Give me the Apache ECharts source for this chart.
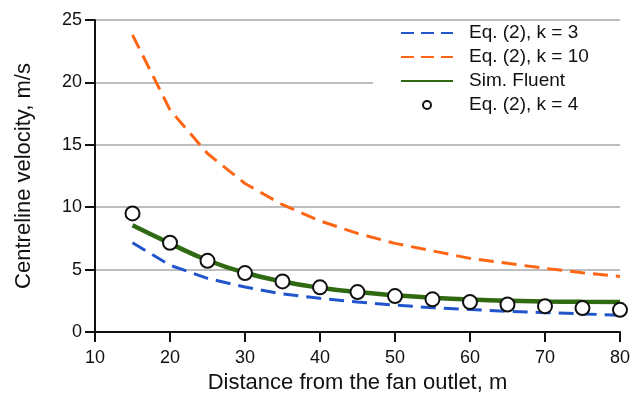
<!DOCTYPE html>
<html>
<head>
<meta charset="utf-8">
<script src="https://cdn.jsdelivr.net/npm/echarts@6/dist/echarts.min.js"></script>
<style>
  html, body { margin: 0; padding: 0; background: #fff; }
  #chart { width: 633px; height: 399px; }
</style>
</head>
<body>
<div id="chart"></div>
<script>
// distance from fan outlet, m
const distance = [15, 20, 25, 30, 35, 40, 45, 50, 55, 60, 65, 70, 75, 80];
// centreline velocity, m/s
const eqK3 = [7.15, 5.35, 4.3, 3.6, 3.05, 2.7, 2.4, 2.15, 1.95, 1.8, 1.65, 1.55, 1.45, 1.35];
const eqK10 = [23.8, 17.8, 14.3, 11.9, 10.2, 8.9, 7.9, 7.1, 6.5, 5.9, 5.5, 5.1, 4.75, 4.45];
const simFluent = [8.55, 7.1, 5.75, 4.75, 4.05, 3.55, 3.2, 2.95, 2.75, 2.6, 2.5, 2.45, 2.42, 2.4];
const eqK4 = [9.5, 7.15, 5.7, 4.72, 4.05, 3.58, 3.2, 2.88, 2.62, 2.4, 2.2, 2.07, 1.92, 1.78];

const yTicks = { min: 0, max: 25, step: 5 };
const xTicks = { min: 10, max: 80, step: 10 };

const font = "'Liberation Sans', Arial, sans-serif";
const pairs = (ys) => distance.map((x, i) => [x, ys[i]]);
const noDot = { opacity: 0 }; // hide the symbol that line legend icons draw
const legendDash = { type: [13, 7], width: 2 };

const chart = echarts.init(document.getElementById("chart"));
chart.setOption({
  backgroundColor: "#fff",
  animation: false,
  grid: { left: 95, right: 13, top: 20, bottom: 66 },
  legend: {
    orient: "vertical",
    left: 373,
    top: 22,
    padding: [1, 40, 25, 27],
    backgroundColor: "#fff",
    itemWidth: 52,
    itemHeight: 8,
    itemGap: 4,
    textStyle: { fontFamily: font, fontSize: 19, color: "#111", lineHeight: 20, padding: [0, 0, 0, 11] },
    data: [
      { name: "Eq. (2), k = 3", itemStyle: noDot, lineStyle: legendDash },
      { name: "Eq. (2), k = 10", itemStyle: noDot, lineStyle: legendDash },
      { name: "Sim. Fluent", itemStyle: noDot },
      { name: "Eq. (2), k = 4", icon: "circle", itemStyle: { color: "#fff", borderColor: "#111", borderWidth: 2, opacity: 1 } }
    ]
  },
  xAxis: {
    type: "value",
    min: xTicks.min,
    max: xTicks.max,
    interval: xTicks.step,
    name: "Distance from the fan outlet, m",
    nameLocation: "middle",
    nameGap: 40,
    nameTextStyle: { fontFamily: font, fontSize: 22, color: "#111" },
    axisLine: { lineStyle: { color: "#111", width: 2 } },
    axisTick: { show: true, length: 10, lineStyle: { color: "#111", width: 2 } },
    axisLabel: { fontFamily: font, fontSize: 18, color: "#111", margin: 17 },
    splitLine: { show: false }
  },
  yAxis: {
    type: "value",
    min: yTicks.min,
    max: yTicks.max,
    interval: yTicks.step,
    name: "Centreline velocity, m/s",
    nameLocation: "middle",
    nameGap: 60,
    nameTextStyle: { fontFamily: font, fontSize: 22, color: "#111" },
    axisLine: { show: true, lineStyle: { color: "#111", width: 2 } },
    axisTick: { show: true, length: 10, lineStyle: { color: "#111", width: 2 } },
    axisLabel: { fontFamily: font, fontSize: 18, color: "#111", margin: 13 },
    splitLine: { show: true, lineStyle: { color: "#a8a8a8", width: 1.5 } }
  },
  series: [
    {
      name: "Eq. (2), k = 3",
      type: "line",
      data: pairs(eqK3),
      symbol: "none",
      lineStyle: { color: "#2255cc", width: 3, type: [15, 8] },
      itemStyle: { color: "#2255cc" },
      z: 2
    },
    {
      name: "Eq. (2), k = 10",
      type: "line",
      data: pairs(eqK10),
      symbol: "none",
      lineStyle: { color: "#ff6614", width: 3, type: [15, 8] },
      itemStyle: { color: "#ff6614" },
      z: 2
    },
    {
      name: "Sim. Fluent",
      type: "line",
      data: pairs(simFluent),
      symbol: "none",
      smooth: true,
      lineStyle: { color: "#2f6a12", width: 4.5 },
      itemStyle: { color: "#2f6a12" },
      z: 3
    },
    {
      name: "Eq. (2), k = 4",
      type: "scatter",
      data: pairs(eqK4),
      symbol: "circle",
      symbolSize: 14,
      itemStyle: { color: "#fff", borderColor: "#111", borderWidth: 2, opacity: 1 },
      z: 4
    }
  ]
});
</script>
</body>
</html>
